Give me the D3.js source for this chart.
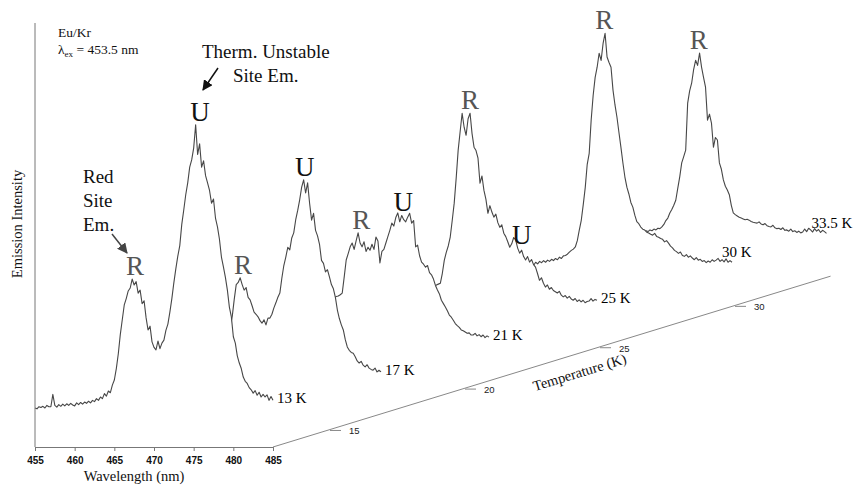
<!DOCTYPE html>
<html><head><meta charset="utf-8">
<script src="https://cdn.jsdelivr.net/npm/d3@7"></script>
<style>
body{margin:0;background:#fff}
svg{display:block}
</style></head><body>
<svg id="chart" width="853" height="485"></svg>
<script>
// Emission spectra of Eu/Kr at several temperatures, sampled every 0.25 nm from 455 to 485 nm
const wavelengthStart = 455, wavelengthStep = 0.25;
const temperatures = [13, 17, 21, 25, 30, 33.5];
const temperatureLabels = ["13 K", "17 K", "21 K", "25 K", "30 K", "33.5 K"];
const wavelengthTicks = [455, 460, 465, 470, 475, 480, 485];
const temperatureTicks = [15, 20, 25, 30];

const em13 = [
  9.2, 9.0, 9.5, 9.3,  9.6, 9.2, 9.8, 9.5,  9.5, 12.4, 9.8, 9.4,  10.0, 9.6, 10.1, 9.7,
  10.2, 9.8, 10.3, 9.9,  9.7, 10.4, 10.0, 10.5,  10.1, 10.6, 10.3, 10.8,  10.4, 11.0, 10.7, 11.4,
  11.0, 11.8, 11.4, 12.6,  12.0, 13.2, 12.8, 14.6,  15.8, 18.5, 22.0, 26.5,  30.0, 33.5, 35.0, 36.8,
  37.5, 39.6, 38.2, 39.0,  36.3, 37.0, 33.8, 34.5,  30.5, 27.6, 28.5, 24.8,  23.5, 22.9, 25.0, 23.2,
  24.5, 25.2, 27.5, 29.0,  31.8, 35.0, 38.7, 42.0,  45.0, 47.5, 52.5, 55.9,  59.5, 62.3, 66.0, 67.7,
  70.5, 76.0, 69.0, 71.5,  66.0, 67.5, 64.0, 62.3,  60.5, 57.5, 58.5, 54.0,  51.9, 49.0, 44.8, 42.5,
  40.0, 37.0, 33.0, 30.7,  26.0, 24.5, 21.5, 19.8,  18.5, 16.5, 15.5, 15.0,  14.0, 13.5, 12.7, 13.3,
  12.2, 12.9, 11.8, 12.4,  11.8, 12.3, 11.0, 11.9,  11.0
];
const em17 = [
  9.5, 9.8, 9.4, 9.9,  9.6, 10.0, 9.7, 10.1,  9.8, 10.2, 9.9, 10.3,  10.0, 10.4, 10.1, 10.5,
  10.2, 10.6, 10.3, 10.8,  10.5, 11.0, 10.7, 11.2,  11.0, 11.4, 11.2, 11.8,  11.5, 12.0, 12.4, 12.9,
  13.0, 13.6, 14.2, 15.0,  15.5, 16.3, 17.0, 18.0,  18.5, 19.2, 19.8, 20.0,  20.5, 23.0, 27.0, 30.5,
  31.0, 32.1, 30.5, 29.2,  29.8, 27.5, 26.9, 25.5,  24.0, 23.5, 22.9, 22.0,  21.4, 22.2, 21.0, 22.6,
  22.6, 23.5, 25.0, 26.2,  27.5, 28.5, 32.0, 35.0,  37.0, 39.3, 38.7, 41.5,  42.7, 45.8, 48.0, 50.5,
  53.5, 55.2, 52.1, 54.5,  49.7, 45.7, 47.3, 43.3,  42.0, 40.0, 36.2, 35.5,  33.5, 34.0, 32.3, 30.5,
  29.5, 27.5, 24.5, 22.5,  21.0, 19.8, 17.5, 15.8,  15.0, 14.5, 14.3, 13.5,  12.5, 12.0, 12.4, 11.5,
  11.1, 11.6, 10.8, 10.5,  10.3, 10.8, 9.9, 10.3,  9.9
];
const em21 = [
  9.4, 9.8, 9.5, 10.0,  9.7, 10.1, 9.8, 10.2,  10.0, 10.3, 10.1, 10.5,  10.2, 10.6, 10.4, 10.8,
  10.5, 10.9, 10.7, 11.1,  10.9, 11.3, 11.1, 11.6,  11.4, 11.9, 11.7, 12.3,  12.1, 12.7, 13.0, 13.6,
  13.8, 14.5, 15.0, 15.8,  16.2, 17.0, 17.5, 18.3,  18.6, 19.2, 19.5, 19.9,  20.0, 20.3, 20.7, 24.5,
  28.5, 30.0, 31.6, 32.5,  31.0, 33.0, 34.9, 32.5,  31.6, 32.8, 30.5, 31.5,  30.8, 32.2, 31.0, 33.9,
  33.0, 27.8, 30.5, 31.0,  32.5, 34.0, 35.5, 37.2,  36.5, 38.5, 39.6, 37.5,  39.0, 38.0, 37.5, 38.6,
  39.5, 37.2, 37.8, 31.6,  32.0, 29.5, 28.0, 27.5,  26.8, 27.2, 25.5, 25.0,  24.0, 22.5, 21.4, 20.5,
  19.0, 18.2, 17.4, 16.5,  15.5, 15.0, 14.3, 13.5,  13.0, 12.6, 12.0, 11.8,  11.5, 11.2, 11.3, 10.8,
  10.8, 11.2, 10.6, 10.9,  10.4, 10.8, 10.2, 10.6,  10.3
];
const em25 = [
  9.5, 9.9, 9.6, 10.0,  9.8, 10.2, 9.9, 10.3,  10.0, 10.4, 10.1, 10.6,  10.3, 10.7, 10.5, 10.9,
  10.6, 11.0, 10.8, 11.3,  11.0, 11.4, 11.2, 11.7,  11.5, 11.9, 11.8, 12.3,  12.0, 12.5, 12.3, 12.8,
  12.6, 13.0, 13.2, 13.6,  13.4, 14.0, 14.2, 14.8,  15.0, 15.2, 17.5, 20.6,  22.5, 24.0, 26.1, 30.0,
  34.1, 40.0, 46.6, 51.0,  55.3, 52.0, 50.1, 54.0,  55.3, 50.5, 47.3, 46.5,  44.7, 38.8, 40.5, 37.1,
  35.0, 31.7, 33.5, 32.0,  30.8, 31.5, 29.5, 28.4,  29.0, 27.0, 26.2, 25.0,  23.7, 24.5, 26.0, 25.4,
  23.5, 22.3, 23.0, 21.5,  20.7, 21.5, 20.2, 20.8,  19.6, 19.0, 17.5, 15.9,  16.5, 15.2, 14.3, 14.8,
  13.8, 14.2, 13.5, 13.2,  12.9, 13.3, 12.4, 12.0,  12.3, 11.7, 12.1, 11.5,  11.2, 11.6, 10.9, 11.3,
  10.8, 11.2, 10.6, 10.9,  11.0, 11.6, 11.0, 11.4,  11.2
];
const em30 = [
  9.0, 9.4, 9.1, 9.5,  9.2, 9.6, 9.3, 9.7,  9.4, 9.8, 9.5, 9.9,  9.6, 10.0, 9.7, 10.1,
  9.8, 10.2, 9.9, 10.3,  9.7, 10.4, 10.0, 10.6,  10.3, 10.8, 10.4, 10.9,  10.6, 11.1, 10.8, 11.3,
  11.0, 11.6, 11.3, 11.9,  12.0, 12.3, 12.8, 13.2,  13.5, 14.0, 15.5, 18.0,  20.3, 24.0, 28.0, 33.5,
  36.1, 44.0, 49.8, 54.0,  56.4, 59.7, 58.0, 62.0,  64.4, 58.8, 57.5, 56.4,  51.0, 47.5, 44.6, 41.0,
  37.5, 33.8, 30.5, 28.1,  26.5, 24.5, 23.4, 21.5,  20.0, 19.5, 18.7, 18.2,  18.0, 17.5, 17.3, 17.0,
  16.8, 17.2, 16.5, 16.3,  16.0, 15.8, 15.2, 15.5,  14.9, 14.2, 13.8, 13.2,  12.9, 12.5, 12.8, 12.0,
  11.8, 12.2, 11.6, 11.9,  11.4, 11.0, 11.5, 10.9,  11.1, 10.6, 10.8, 10.3,  10.7, 10.4, 11.0, 10.6,
  10.9, 11.3, 10.6, 11.0,  10.5, 11.2, 10.4, 10.8,  10.4
];
const em33 = [
  9.0, 9.4, 9.1, 9.5,  9.3, 9.7, 9.4, 9.8,  9.5, 9.9, 9.6, 10.0,  9.7, 10.1, 9.8, 10.2,
  9.9, 10.3, 10.0, 10.4,  10.1, 10.5, 10.2, 10.6,  10.3, 10.7, 10.5, 10.9,  10.6, 11.0, 10.8, 11.2,
  11.0, 11.4, 11.2, 11.6,  11.5, 11.9, 12.5, 13.4,  14.0, 15.2, 16.0, 17.0,  18.2, 21.0, 23.7, 27.0,
  28.5, 30.0, 41.1, 44.0,  45.8, 49.0, 51.2, 50.0,  52.9, 49.6, 47.2, 44.9,  37.1, 38.5, 36.4, 30.7,
  33.0, 32.4, 27.0, 25.5,  23.0, 21.5, 20.6, 19.5,  17.0, 15.2, 14.8, 14.5,  14.2, 14.0, 13.8, 13.6,
  13.7, 13.5, 13.2, 13.0,  12.9, 12.8, 13.1, 12.6,  12.4, 12.7, 12.2, 12.0,  11.9, 12.3, 11.7, 11.5,
  11.6, 11.3, 11.7, 11.1,  11.2, 10.9, 11.4, 10.8,  11.0, 10.6, 10.9, 10.5,  10.7, 11.4, 10.8, 11.6,
  11.2, 10.7, 11.5, 10.9,  11.3, 10.6, 11.1, 10.8,  10.4
];
const spectra = [em13, em17, em21, em25, em30, em33];

// Peak assignments: red site (R) and thermally unstable site (U)
const peakTemps = [13, 13, 17, 17, 21, 21, 25, 25, 30, 33.5];
const peakSites = ["R", "U", "R", "U", "R", "U", "R", "U", "R", "R"];
const peakWavelengths = [467.6, 475.8, 467.6, 475.4, 468.9, 474.2, 469.0, 475.5, 468.9, 468.9];

const serif = "'Liberation Serif','Times New Roman',serif";
const sans = "'Liberation Sans',Arial,sans-serif";
const svg = d3.select("#chart");

const x = d3.scaleLinear().domain([455, 485]).range([35, 273]);
const y = d3.scaleLinear().domain([0, 100]).range([447, 23]);
// oblique offset of each temperature slice
const depthX = d3.scaleLinear().domain([13, 33.5]).range([0, 553.5]);
const depthY = d3.scaleLinear().domain([13, 33.5]).range([0, -169.6]);

const wl = i => wavelengthStart + i * wavelengthStep;
const series = temperatures.map((t, k) => ({
  t, label: temperatureLabels[k],
  pts: spectra[k].map((v, i) => [wl(i), v]),
  ox: depthX(t), oy: depthY(t)
}));

const endShift = {30: [-14, -8], 33.5: [-19, -8]};

// draw back to front; white area under each trace hides the slices behind it
const gSpec = svg.append("g");
series.slice().reverse().forEach(s => {
  const area = d3.area()
    .x(d => x(d[0]) + s.ox)
    .y0(y(0) + s.oy)
    .y1(d => y(d[1]) + s.oy);
  const line = d3.line()
    .x(d => x(d[0]) + s.ox)
    .y(d => y(d[1]) + s.oy);
  gSpec.append("path").attr("d", area(s.pts)).attr("fill", "#fff").attr("stroke", "none");
  gSpec.append("path").attr("d", line(s.pts)).attr("fill", "none")
    .attr("stroke", "#474747").attr("stroke-width", 1.1).attr("stroke-linejoin", "round");
  const last = s.pts[s.pts.length - 1];
  const sh = endShift[s.t] || [0, 0];
  gSpec.append("text")
    .attr("x", x(last[0]) + s.ox + 4 + sh[0])
    .attr("y", y(last[1]) + s.oy + 3 + sh[1])
    .attr("font-family", serif).attr("font-size", 15).attr("fill", "#000")
    .text(s.label);
});

// front wavelength axis
const xAxis = d3.axisBottom(x).tickValues(wavelengthTicks).tickSize(4).tickSizeOuter(0).tickPadding(6);
const gx = svg.append("g").attr("transform", "translate(0,447)").call(xAxis);
gx.select(".domain").attr("stroke", "#777");
gx.selectAll(".tick line").attr("stroke", "#777");
gx.selectAll(".tick text").attr("font-family", sans).attr("font-size", 10)
  .attr("font-weight", "bold").attr("fill", "#111");

// intensity axis
svg.append("line").attr("x1", x(455)).attr("x2", x(455)).attr("y1", y(0)).attr("y2", y(100))
  .attr("stroke", "#777").attr("stroke-width", 1);

// temperature (depth) axis
const depthEnd = 33.65;
svg.append("line")
  .attr("x1", x(485) + depthX(13)).attr("y1", y(0) + depthY(13))
  .attr("x2", x(485) + depthX(depthEnd)).attr("y2", y(0) + depthY(depthEnd))
  .attr("stroke", "#888").attr("stroke-width", 1);
temperatureTicks.forEach(t => {
  const px = x(485) + depthX(t), py = y(0) + depthY(t);
  svg.append("line").attr("x1", px + 3).attr("x2", px + 14).attr("y1", py).attr("y2", py)
    .attr("stroke", "#888");
  svg.append("text").attr("x", px + 22).attr("y", py + 4)
    .attr("font-family", sans).attr("font-size", 9.5).attr("fill", "#222").text(t);
});

// axis titles
svg.append("text").attr("x", 134).attr("y", 481).attr("text-anchor", "middle")
  .attr("font-family", serif).attr("font-size", 14.5).attr("fill", "#111").text("Wavelength (nm)");
svg.append("text").attr("transform", "translate(22,224) rotate(-90)").attr("text-anchor", "middle")
  .attr("font-family", serif).attr("font-size", 14.5).attr("fill", "#111").text("Emission Intensity");
svg.append("text").attr("transform", "translate(581,377) rotate(-17)").attr("text-anchor", "middle")
  .attr("font-family", serif).attr("font-size", 14.5).attr("fill", "#111").text("Temperature (K)");

// sample description
svg.append("text").attr("x", 58).attr("y", 37).attr("font-family", serif).attr("font-size", 13.5)
  .attr("fill", "#111").text("Eu/Kr");
const lam = svg.append("text").attr("x", 58).attr("y", 54).attr("font-family", serif)
  .attr("font-size", 13.5).attr("fill", "#111");
lam.append("tspan").text("λ");
lam.append("tspan").attr("font-size", 9).attr("dy", 3).text("ex");
lam.append("tspan").attr("dy", -3).text(" = 453.5 nm");

// peak site letters
peakTemps.forEach((t, k) => {
  const s = series.find(d => d.t === t);
  const lw = peakWavelengths[k];
  const top = d3.max(s.pts.filter(p => Math.abs(p[0] - lw) <= 0.6), p => p[1]);
  svg.append("text")
    .attr("x", x(lw) + s.ox).attr("y", y(top) + s.oy - 4)
    .attr("text-anchor", "middle").attr("font-family", serif).attr("font-size", 27)
    .attr("fill", peakSites[k] === "R" ? "#555" : "#111")
    .text(peakSites[k]);
});

// callouts
const defs = svg.append("defs");
[["headGrey", "#444"], ["headBlack", "#111"]].forEach(([id, c]) => {
  defs.append("marker").attr("id", id).attr("viewBox", "0 0 10 10").attr("refX", 9).attr("refY", 5)
    .attr("markerWidth", 7).attr("markerHeight", 7).attr("orient", "auto")
    .append("path").attr("d", "M0,0L10,5L0,10z").attr("fill", c);
});
const red = svg.append("text").attr("font-family", serif).attr("font-size", 19).attr("fill", "#111");
["Red", "Site", "Em."].forEach((w, i) => red.append("tspan").attr("x", 83).attr("y", 183 + i * 24).text(w));
svg.append("line").attr("x1", 112).attr("y1", 234).attr("x2", 127).attr("y2", 253)
  .attr("stroke", "#444").attr("stroke-width", 1.5).attr("marker-end", "url(#headGrey)");

const th = svg.append("text").attr("font-family", serif).attr("font-size", 19).attr("fill", "#111");
th.append("tspan").attr("x", 202).attr("y", 58).text("Therm. Unstable");
th.append("tspan").attr("x", 233).attr("y", 82).text("Site Em.");
svg.append("line").attr("x1", 218).attr("y1", 68).attr("x2", 203).attr("y2", 90)
  .attr("stroke", "#111").attr("stroke-width", 1.5).attr("marker-end", "url(#headBlack)");
</script>
</body></html>
